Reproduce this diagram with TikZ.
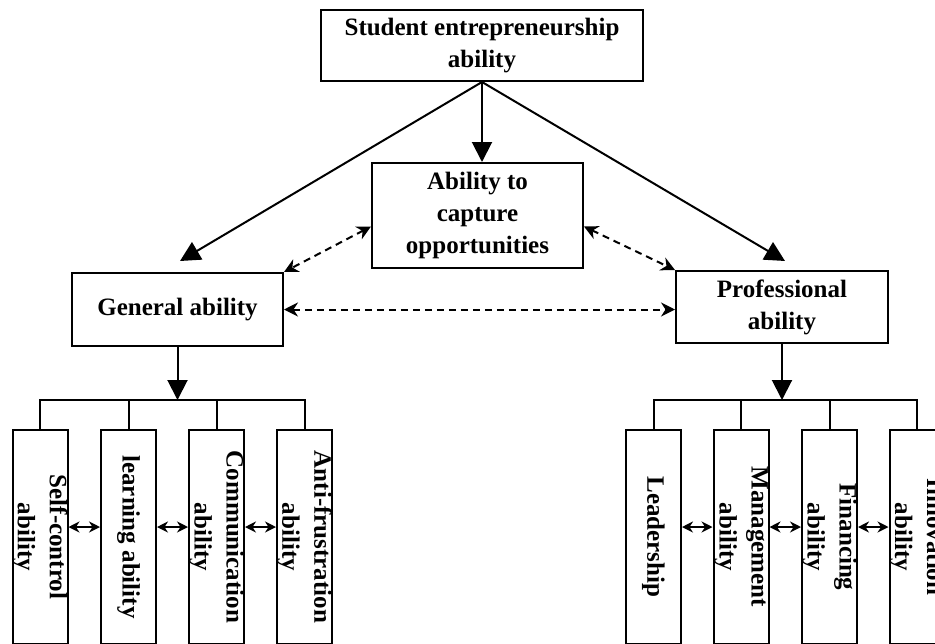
\documentclass[tikz,border=0pt]{standalone}
\usepackage{fontspec}
\setmainfont{Liberation Serif}
\usetikzlibrary{arrows.meta}

\newcommand{\abilfont}{\bfseries\fontsize{25}{32}\selectfont}

\tikzset{
  box/.style={draw, line width=2pt, align=center, inner sep=2pt, font=\abilfont},
  leaf/.style={draw, line width=2pt, minimum width=55pt, minimum height=214pt, inner sep=0pt},
  vtext/.style={rotate=-90, align=center, inner sep=0pt, font=\abilfont},
  bus/.style={line width=2pt},
  main/.style={-{Triangle[length=20pt,width=20pt]}, line width=2pt},
  link/.style={{Stealth[length=14pt,width=14pt]}-{Stealth[length=14pt,width=14pt]}, line width=2pt, dash pattern=on 7pt off 5pt},
  pair/.style={{Stealth[length=11pt,width=11pt]}-{Stealth[length=11pt,width=11pt]}, line width=2pt}
}

\begin{document}
\begin{tikzpicture}[x=1pt,y=-1pt]
        \useasboundingbox (0,0) rectangle (935,643);
        \def\leafy{537}

        \node (top) at (482,45.5) [box, minimum width=322, minimum height=71] {Student entrepreneurship\\ability};
        \node (cap) at (477.5,215.5) [box, minimum width=211, minimum height=105] {Ability to\\capture\\opportunities};
        \node (gen) at (177.5,309.5) [box, minimum width=211, minimum height=73] {General ability};
        \node (prof) at (782,307) [box, minimum width=212, minimum height=72] {Professional\\ability};

        \coordinate (gtip) at ([xshift=2.5pt,yshift=11pt]gen.north);
        \coordinate (ptip) at ([xshift=3pt,yshift=9pt]prof.north);
        \coordinate (gbus) at (177.5,400);
        \coordinate (pbus) at (782,400);

        \draw[main] (top.south) -- (top.south |- cap.north);
        \draw[main] (top.south) -- (gtip);
        \draw[main] (top.south) -- (ptip);

        \draw[link] ([yshift=-11pt]cap.west) -- (gen.north east);
        \draw[link] ([yshift=-11pt]cap.east) -- (prof.north west);
        \draw[link] (gen.east) -- (gen.east -| prof.west);

        % general ability branch
        \node (g1) at (40,\leafy) [leaf] {};
        \node (g2) at (128.5,\leafy) [leaf] {};
        \node (g3) at (216.5,\leafy) [leaf] {};
        \node (g4) at (304.5,\leafy) [leaf] {};
        \node (g1t) at (g1) [vtext] {Self-control\\ability};
        \node (g2t) at (g2) [vtext] {learning ability};
        \node (g3t) at (g3) [vtext] {Communication\\ability};
        \node (g4t) at (g4) [vtext] {Anti-frustration\\ability};

        \draw[main] (gen.south) -- (gbus);
        \draw[bus] (g1.north) -- (g1.north |- gbus) -- (g4.north |- gbus) -- (g4.north);
        \draw[bus] (g2.north) -- (g2.north |- gbus);
        \draw[bus] (g3.north) -- (g3.north |- gbus);

        \draw[pair] ([yshift=10pt]g1.east) -- ([yshift=10pt]g2.west);
        \draw[pair] ([yshift=10pt]g2.east) -- ([yshift=10pt]g3.west);
        \draw[pair] ([yshift=10pt]g3.east) -- ([yshift=10pt]g4.west);

        % professional ability branch
        \node (p1) at (653.5,\leafy) [leaf] {};
        \node (p2) at (741,\leafy) [leaf] {};
        \node (p3) at (829.5,\leafy) [leaf] {};
        \node (p4) at (917,\leafy) [leaf] {};
        \node (p1t) at (p1) [vtext] {Leadership};
        \node (p2t) at (p2) [vtext] {Management\\ability};
        \node (p3t) at (p3) [vtext] {Financing\\ability};
        \node (p4t) at (p4) [vtext] {Innovation\\ability};

        \draw[main] (prof.south) -- (pbus);
        \draw[bus] (p1.north) -- (p1.north |- pbus) -- (p4.north |- pbus) -- (p4.north);
        \draw[bus] (p2.north) -- (p2.north |- pbus);
        \draw[bus] (p3.north) -- (p3.north |- pbus);

        \draw[pair] ([yshift=10pt]p1.east) -- ([yshift=10pt]p2.west);
        \draw[pair] ([yshift=10pt]p2.east) -- ([yshift=10pt]p3.west);
        \draw[pair] ([yshift=10pt]p3.east) -- ([yshift=10pt]p4.west);
      \end{tikzpicture}
\end{document}
